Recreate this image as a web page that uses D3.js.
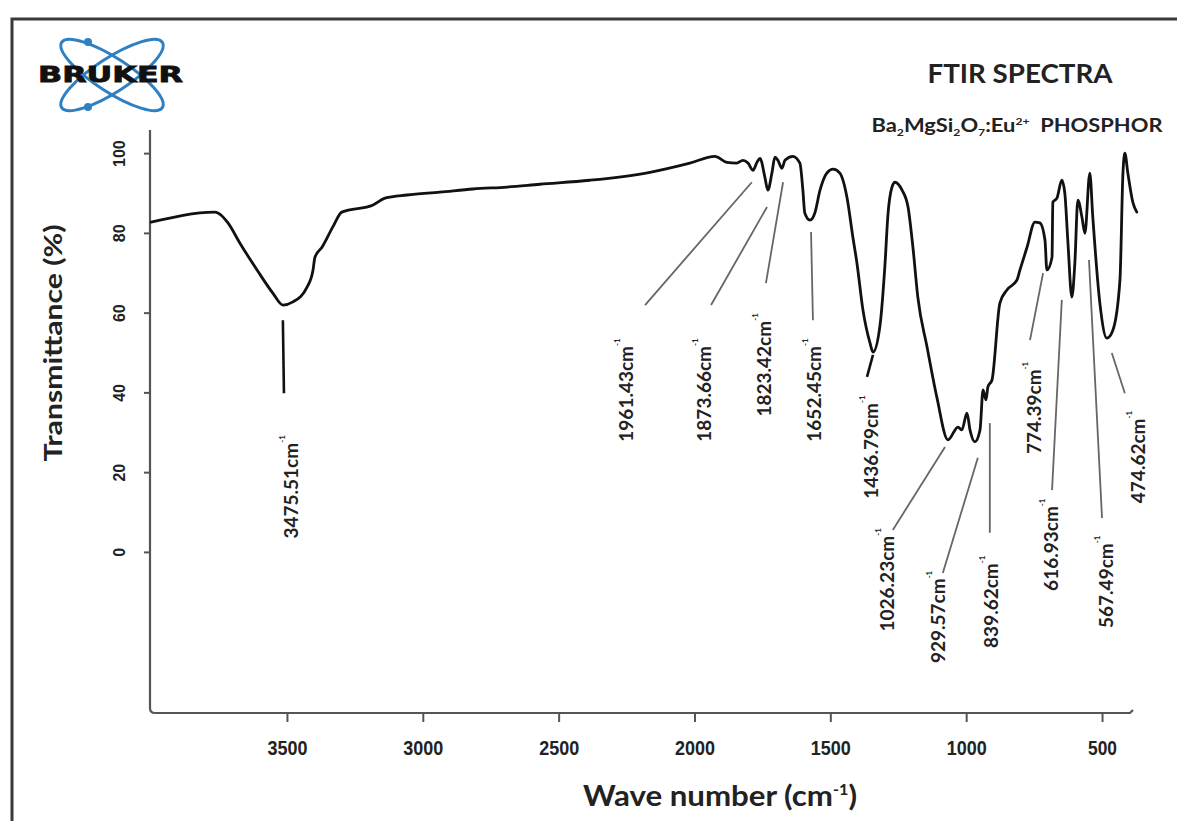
<!DOCTYPE html>
<html>
<head>
<meta charset="utf-8">
<script src="https://cdn.jsdelivr.net/npm/d3@7"></script>
<style>
  html, body { margin: 0; padding: 0; background: #fff; }
  svg { display: block; }
</style>
</head>
<body>
<svg id="chart" width="1177" height="821"></svg>
<script>
// ---------- DATA ----------
const wavenumber = [4000,3765,3754,3717,3673,3610,3552,3515,3478,3426,3404,3397,3371,3331,3298,3183,3139,3058,2937,2815,2690,2569,2385,2164,2017,1925,1881,1844,1822,1803,1785,1770,1759,1741,1730,1715,1704,1693,1678,1667,1638,1612,1601,1594,1575,1557,1538,1513,1490,1465,1439,1417,1402,1380,1354,1343,1317,1299,1288,1273,1262,1236,1214,1196,1178,1144,1108,1067,1030,1016,997,986,968,949,938,927,920,905,876,850,813,802,776,747,729,710,703,684,681,666,648,637,626,611,600,589,574,563,545,534,508,482,460,434,423,416,405,386,372];
const transmittance = [82.7,85.2,85.0,82.5,77.4,70.7,64.9,61.9,62.7,66.4,70.7,73.9,76.4,81.5,85.2,87.0,88.7,89.5,90.2,91.0,91.5,92.2,93.2,95.2,97.5,99.2,97.7,97.5,98.2,97.5,95.7,97.7,98.7,94.0,90.7,95.0,99.0,98.2,96.2,98.2,99.2,97.5,90.7,85.0,83.2,85.0,90.7,95.0,96.0,95.0,89.0,78.9,72.4,60.7,52.4,50.1,56.9,71.9,84.5,91.5,92.7,90.7,86.5,76.4,63.9,51.4,38.8,28.1,31.3,30.6,34.8,30.6,27.6,30.6,40.6,38.1,41.4,43.1,62.4,65.7,68.2,70.7,76.4,82.7,82.5,78.2,70.7,73.9,87.7,88.7,93.2,90.0,78.2,63.9,72.4,88.2,84.0,79.9,95.0,84.0,62.4,53.6,55.6,68.2,95.0,100.0,95.0,87.5,85.2];

const xTicks = [3500,3000,2500,2000,1500,1000,500];
const yTicks = [0,20,40,60,80,100];

// peak annotations (text, label anchor in data units, leader line ends in data units)
const peakText      = ["3475.51","1961.43","1873.66","1823.42","1652.45","1436.79","1026.23","929.57","839.62","774.39","616.93","567.49","474.62"];
const peakLabelWave = [3489,2256,1969,1748,1564,1354,1295,1108,913,754,692,489,372];
const peakLabelT    = [16.3,40.6,40.6,46.9,40.6,26.3,-7.0,-16.3,-12.5,36.1,1.8,-7.5,23.8];
const leadFromWave  = [3515,2182,1939,1737,1564,1365,1270,1086,913,765,684,500,416];
const leadFromT     = [58.1,61.9,61.9,67.4,58.1,43.9,5.5,-5.3,4.8,53.1,15.5,8.5,39.8];
const leadToWave    = [3511,1789,1733,1674,1571,1343,1078,957,913,717,648,548,464];
const leadToT       = [39.8,92.7,86.5,92.7,80.2,49.4,26.3,23.6,32.3,69.9,63.2,73.2,49.9];

// ---------- DRAW ----------
const svg = d3.select("#chart");
const x = d3.scaleLinear().domain([4000, 372]).range([151.1, 1136.8]);
const y = d3.scaleLinear().domain([-40.4, 105.8]).range([713, 130]);

// outer frame
svg.append("rect").attr("x", 12).attr("y", 19).attr("width", 1300).attr("height", 1000)
  .attr("fill", "none").attr("stroke", "#3a3a3a").attr("stroke-width", 3);

// logo
const logo = svg.append("g");
[33, -33].forEach(a => {
  logo.append("ellipse").attr("cx", 112).attr("cy", 75).attr("rx", 60).attr("ry", 17)
    .attr("transform", `rotate(${a},112,75)`)
    .attr("fill", "none").attr("stroke", "#2f80c2").attr("stroke-width", 3);
});
logo.append("circle").attr("cx", 88).attr("cy", 42).attr("r", 4).attr("fill", "#2f80c2");
logo.append("circle").attr("cx", 88).attr("cy", 107).attr("r", 4).attr("fill", "#2f80c2");
logo.append("text").attr("x", 38).attr("y", 82).text("BRUKER")
  .attr("font-family", "DejaVu Sans").attr("font-weight", "bold").attr("font-size", 21)
  .attr("textLength", 145).attr("lengthAdjust", "spacingAndGlyphs").attr("fill", "#111")
  .attr("stroke", "#111").attr("stroke-width", 0.8);

// titles
svg.append("text").attr("x", 1020).attr("y", 83).attr("text-anchor", "middle")
  .attr("font-family", "Lato").attr("font-weight", "bold").attr("font-size", 26)
  .attr("fill", "#222").attr("textLength", 185).attr("lengthAdjust", "spacingAndGlyphs")
  .text("FTIR SPECTRA");

const sub = svg.append("text").attr("x", 1017).attr("y", 132).attr("text-anchor", "middle")
  .attr("font-family", "Lato").attr("font-weight", "bold").attr("font-size", 18).attr("fill", "#222")
  .attr("textLength", 291).attr("lengthAdjust", "spacingAndGlyphs");
const subParts = [["Ba",0],["2",1],["MgSi",0],["2",1],["O",0],["7",1],[":Eu",0],["2+",2],["\u00a0\u00a0PHOSPHOR",0]];
let prev = 0;
subParts.forEach(([t, k]) => {
  const target = k === 1 ? 4 : (k === 2 ? -7 : 0);
  sub.append("tspan").attr("dy", target - prev).attr("font-size", k ? 10 : 18).text(t);
  prev = target;
});

// axes lines (rounded corner)
const x0 = 150, yb = 713;
svg.append("path")
  .attr("d", `M${x0},130 V${yb-5} Q${x0},${yb} ${x0+5},${yb} H1130 l3,-3`)
  .attr("fill", "none").attr("stroke", "#555").attr("stroke-width", 2.2);

// x ticks
const xAxis = d3.axisBottom(x).tickValues(xTicks).tickSize(9).tickFormat("");
const gx = svg.append("g").attr("transform", `translate(0,${yb})`).call(xAxis);
gx.select(".domain").remove();
gx.selectAll(".tick line").attr("stroke", "#555").attr("stroke-width", 2);
gx.selectAll(".tick").append("text")
  .attr("y", 42).attr("text-anchor", "middle").attr("fill", "#222")
  .attr("font-family", "Liberation Sans").attr("font-weight", "bold").attr("font-size", 21)
  .attr("textLength", d => d >= 1000 ? 40 : 29).attr("lengthAdjust", "spacingAndGlyphs")
  .text(d => d);

// y ticks
const yAxis = d3.axisLeft(y).tickValues(yTicks).tickSize(6).tickFormat("");
const gy = svg.append("g").attr("transform", `translate(${x0},0)`).call(yAxis);
gy.select(".domain").remove();
gy.selectAll(".tick line").attr("stroke", "#555").attr("stroke-width", 2);
gy.selectAll(".tick").append("text")
  .attr("transform", "translate(-31,0) rotate(-90)")
  .attr("text-anchor", "middle").attr("dominant-baseline", "central")
  .attr("fill", "#222").attr("font-family", "Liberation Sans").attr("font-weight", "bold").attr("font-size", 16)
  .text(d => d);

// axis titles
svg.append("text").attr("transform", "translate(52,343) rotate(-90)")
  .attr("text-anchor", "middle").attr("dominant-baseline", "central")
  .attr("font-family", "Lato").attr("font-weight", "bold").attr("font-size", 25)
  .attr("fill", "#222").attr("textLength", 237).attr("lengthAdjust", "spacingAndGlyphs")
  .text("Transmittance (%)");

const xt = svg.append("text").attr("x", 720).attr("y", 806).attr("text-anchor", "middle")
  .attr("font-family", "Lato").attr("font-weight", "bold").attr("font-size", 29).attr("fill", "#222")
  .attr("textLength", 274).attr("lengthAdjust", "spacingAndGlyphs");
xt.append("tspan").text("Wave number (cm");
xt.append("tspan").attr("dy", -11).attr("font-size", 15).text("-1");
xt.append("tspan").attr("dy", 11).text(")");

// spectrum
const pts = wavenumber.map((w, i) => [w, transmittance[i]]);
const line = d3.line().x(d => x(d[0])).y(d => y(d[1])).curve(d3.curveMonotoneX);
svg.append("path").datum(pts).attr("d", line)
  .attr("fill", "none").attr("stroke", "#111").attr("stroke-width", 2.8)
  .attr("stroke-linejoin", "round").attr("stroke-linecap", "round");

// leader lines
peakText.forEach((t, i) => {
  const dark = (i === 0 || i === 5);
  svg.append("line")
    .attr("x1", x(leadFromWave[i])).attr("y1", y(leadFromT[i]))
    .attr("x2", x(leadToWave[i])).attr("y2", y(leadToT[i]))
    .attr("stroke", dark ? "#111" : "#666").attr("stroke-width", dark ? 2.6 : 1.8);
});

// peak labels
peakText.forEach((t, i) => {
  const g = svg.append("text")
    .attr("transform", `translate(${x(peakLabelWave[i])},${y(peakLabelT[i])}) rotate(-90)`)
    .attr("text-anchor", "middle").attr("dominant-baseline", "central")
    .attr("font-family", "Lato").attr("font-weight", "bold").attr("font-size", 19).attr("fill", "#222");
  g.append("tspan").text(t + "cm");
  g.append("tspan").attr("dy", -8).attr("font-size", 8).text("-1");
});
</script>
</body>
</html>
